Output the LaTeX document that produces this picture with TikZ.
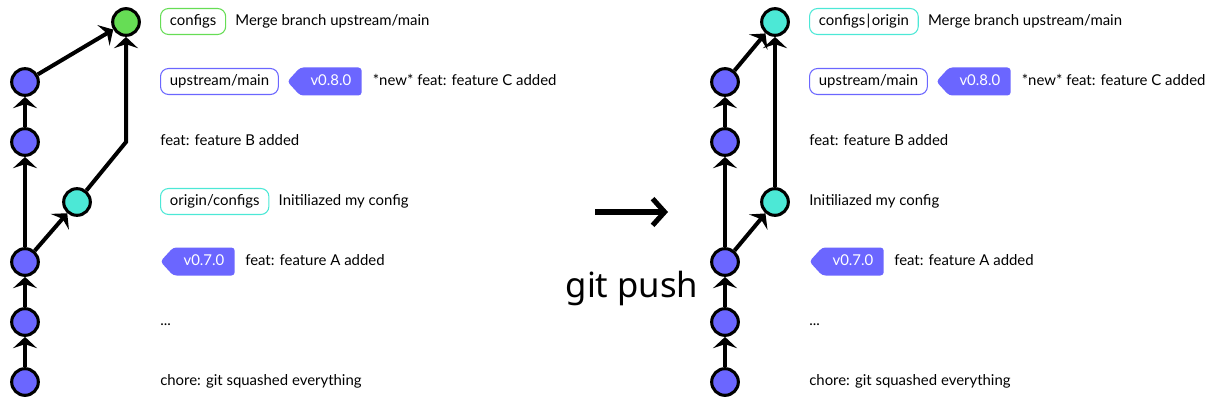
\documentclass[tikz,border=0pt]{standalone}
\usepackage{fontspec}
\setmainfont{Lato}
\newfontfamily\pushfont{Noto Sans}
\usetikzlibrary{positioning, arrows.meta, shapes.symbols}

\definecolor{commitblue}{HTML}{6B66FF}
\definecolor{commitcyan}{HTML}{4CE8D6}
\definecolor{commitgreen}{HTML}{66DD55}

\tikzset{
    commit/.style={circle, draw=black, line width=2.3pt, fill=#1, minimum size=20pt, inner sep=0pt},
    edge/.style={line width=3pt, -{Stealth[length=8.5pt, width=18pt, inset=3pt]}},
    branch/.style={draw=#1, line width=0.8pt, rounded corners=6pt, fill=white, inner xsep=7pt,
        minimum height=19.5pt, text height=1.6ex, text depth=.3ex, anchor=west, font=\fontsize{11.2}{13}\selectfont},
    vtag/.style={signal, signal to=west, signal pointer angle=95, fill=commitblue, text=white,
        rounded corners=2.5pt, minimum height=21pt, inner xsep=7.8pt, text height=1.6ex, text depth=.3ex,
        anchor=west, font=\fontsize{11.2}{13}\selectfont},
    msg/.style={inner sep=0pt, text height=1.6ex, text depth=.3ex, anchor=west, font=\fontsize{11.2}{13}\selectfont}
}

\begin{document}
\begin{tikzpicture}[x=0.75pt, y=-0.75pt]
    \useasboundingbox (0,0) rectangle (1212,406);

    % before the push
    \node[commit=commitblue] (lc1) at (25,382) {};
    \node[commit=commitblue] (lc2) at (25,322) {};
    \node[commit=commitblue] (lc3) at (25,262) {};
    \node[commit=commitblue] (lc4) at (25,142) {};
    \node[commit=commitblue] (lc5) at (25,82) {};
    \node[commit=commitcyan] (lorig) at (77,202) {};
    \node[commit=commitgreen] (lmerge) at (126,22) {};
    \coordinate (lbend) at (126,142);

    \draw [edge] (lc1) -- (lc2);
    \draw [edge] (lc2) -- (lc3);
    \draw [edge] (lc3) -- (lc4);
    \draw [edge] (lc4) -- (lc5);
    \draw [edge] (lc5) -- (lmerge);
    \draw [edge] (lc3) -- (lorig);
    \draw [edge] (lorig) -- (lbend) -- (lmerge);

    \node[branch=commitgreen] (lcfg) at (160,21.5) {configs};
    \node[msg, right=6.75pt of lcfg] (lmsg1) {Merge branch upstream/main};
    \node[branch=commitblue] (lup) at (160,81.5) {upstream/main};
    \node[vtag, right=6pt of lup] (lv8) {v0.8.0};
    \node[msg, right=8pt of lv8] (lmsg2) {*new* feat: feature C added};
    \node[msg] (lmsg3) at (160,141.5) {feat: feature B added};
    \node[branch=commitcyan] (locfg) at (160,201.5) {origin/configs};
    \node[msg, right=6.75pt of locfg] (lmsg4) {Initiliazed my config};
    \node[vtag] (lv7) at (160,261.5) {v0.7.0};
    \node[msg, right=7.5pt of lv7] (lmsg5) {feat: feature A added};
    \node[msg] (lmsg6) at (160,321.5) {...};
    \node[msg] (lmsg7) at (160,381.5) {chore: git squashed everything};

    % the push
    \coordinate (pfrom) at (595,212);
    \coordinate (pto) at (668,212);
    \draw [line width=3.8pt, -{Straight Barb[length=9pt, width=20pt]}] (pfrom) -- (pto);
    \node (push) at (632,288) {\pushfont\fontsize{26}{30}\selectfont git push};

    % after the push
    \node[commit=commitblue] (rc1) at (725,382) {};
    \node[commit=commitblue] (rc2) at (725,322) {};
    \node[commit=commitblue] (rc3) at (725,262) {};
    \node[commit=commitblue] (rc4) at (725,142) {};
    \node[commit=commitblue] (rc5) at (725,82) {};
    \node[commit=commitcyan] (rorig) at (775,202) {};
    \node[commit=commitcyan] (rmerge) at (775,22) {};

    \draw [edge] (rc1) -- (rc2);
    \draw [edge] (rc2) -- (rc3);
    \draw [edge] (rc3) -- (rc4);
    \draw [edge] (rc4) -- (rc5);
    \draw [edge] (rc5) -- (rmerge);
    \draw [edge] (rc3) -- (rorig);
    \draw [edge] (rorig) -- (rmerge);

    \node[branch=commitcyan] (rcfg) at (809,21.5) {configs\kern1pt|\kern1pt origin};
    \node[msg, right=6.75pt of rcfg] (rmsg1) {Merge branch upstream/main};
    \node[branch=commitblue] (rup) at (809,81.5) {upstream/main};
    \node[vtag, right=6pt of rup] (rv8) {v0.8.0};
    \node[msg, right=8pt of rv8] (rmsg2) {*new* feat: feature C added};
    \node[msg] (rmsg3) at (809,141.5) {feat: feature B added};
    \node[msg] (rmsg4) at (809,201.5) {Initiliazed my config};
    \node[vtag] (rv7) at (809,261.5) {v0.7.0};
    \node[msg, right=7.5pt of rv7] (rmsg5) {feat: feature A added};
    \node[msg] (rmsg6) at (809,321.5) {...};
    \node[msg] (rmsg7) at (809,381.5) {chore: git squashed everything};
\end{tikzpicture}
\end{document}
